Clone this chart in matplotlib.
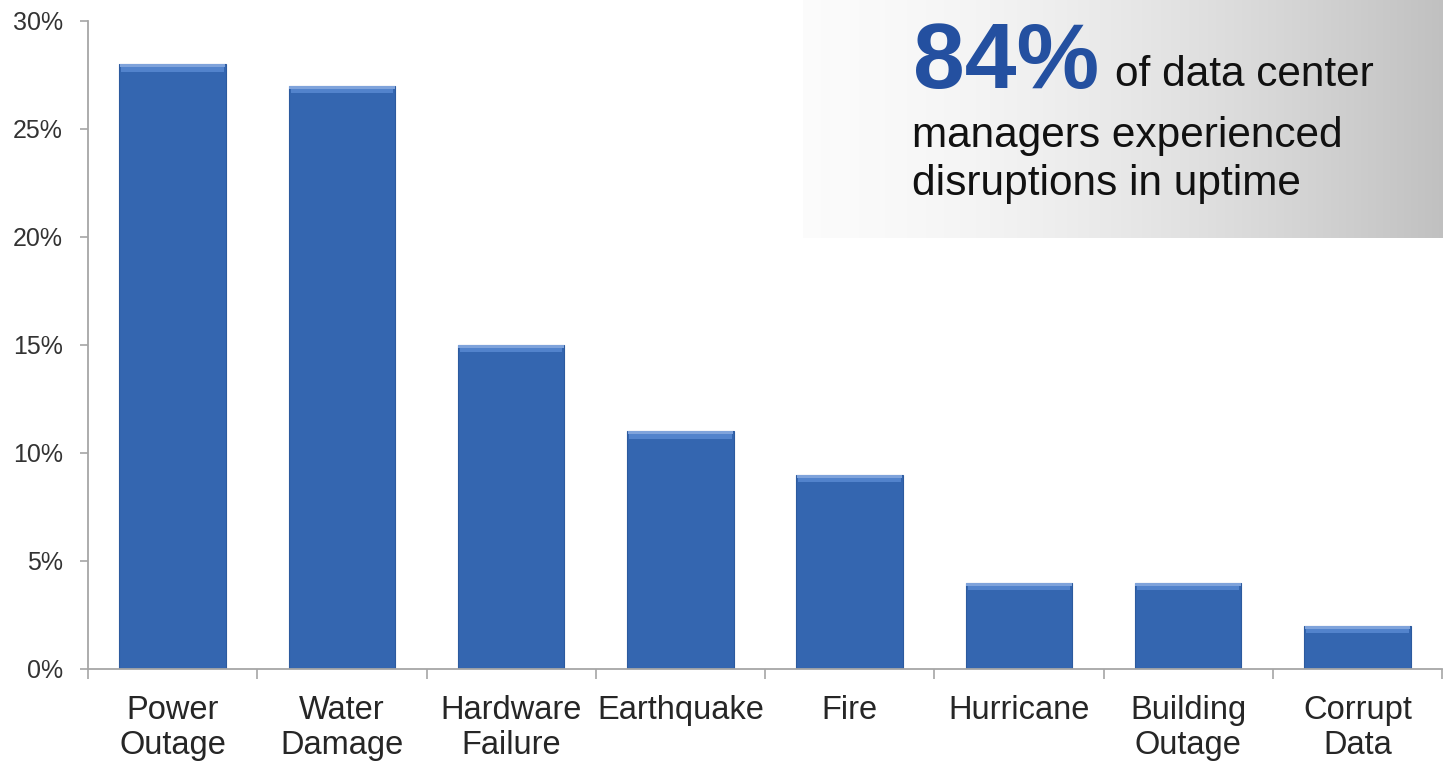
import matplotlib
matplotlib.use("Agg")
import matplotlib.pyplot as plt
import numpy as np
from matplotlib import font_manager

categories = ["Power\nOutage", "Water\nDamage", "Hardware\nFailure", "Earthquake",
              "Fire", "Hurricane", "Building\nOutage", "Corrupt\nData"]
values = [28, 27, 15, 11, 9, 4, 4, 2]
yticks = [0, 5, 10, 15, 20, 25, 30]
ytick_labels = ["0%", "5%", "10%", "15%", "20%", "25%", "30%"]
headline_big = "84%"
headline_rest = "of data center"
headline_lines = ["managers experienced", "disruptions in uptime"]

base_font = "Liberation Sans"
plt.rcParams["font.family"] = [base_font, "DejaVu Sans"]


def find_narrow_bold():
    for f in font_manager.fontManager.ttflist:
        fname = f.fname.lower()
        if f.name in ("Liberation Sans Narrow", "Arial Narrow") and "bold" in fname \
                and "italic" not in fname:
            return font_manager.FontProperties(fname=f.fname)
    return None


big_fp = find_narrow_bold()

W, H = 1443, 763
fig = plt.figure(figsize=(W / 100, H / 100), dpi=100)
fig.patch.set_facecolor("white")

ax = fig.add_axes([88 / W, 1 - 669 / H, (1442 - 88) / W, (669 - 21) / H])
ax.set_facecolor("white")

x = np.arange(len(values))
bw = 0.63
bar_color = "#3466b0"
ax.bar(x, values, width=bw, color=bar_color, edgecolor="#2c5a9e", linewidth=0.8, zorder=2)
# bevel highlight on top
band = 0.34
ax.bar(x, [band] * len(values), bottom=[v - band for v in values], width=bw * 0.96,
       color="#5283cc", linewidth=0, zorder=3)
ax.bar(x, [band * 0.4] * len(values), bottom=[v - band * 0.4 for v in values], width=bw * 0.99,
       color="#7fa3db", linewidth=0, zorder=3)

ax.set_xlim(-0.5, len(values) - 0.5)
ax.set_ylim(0, 30)

for s in ["top", "right"]:
    ax.spines[s].set_visible(False)
for s in ["left", "bottom"]:
    ax.spines[s].set_color("#a6a6a6")
    ax.spines[s].set_linewidth(1.3)

ax.set_yticks(yticks)
ax.set_yticklabels(ytick_labels)
ax.tick_params(axis="y", length=6, width=1.2, color="#a6a6a6", pad=12,
               labelsize=18, labelcolor="#333333")

ax.set_xticks(x)
ax.set_xticklabels(categories, linespacing=1.17)
ax.tick_params(axis="x", which="major", length=0, pad=19, labelsize=23.5, labelcolor="#262626")
ax.set_xticks(np.arange(-0.5, len(values) + 0.5, 1), minor=True)
ax.tick_params(axis="x", which="minor", length=7, width=1.2, color="#a6a6a6")
for lbl in ax.get_xticklabels():
    lbl.set_verticalalignment("top")

# Gradient annotation box
bx0, by0 = 803, 0
bx1, by1 = W, 238
box_ax = fig.add_axes([bx0 / W, 1 - by1 / H, (bx1 - bx0) / W, (by1 - by0) / H])
t = np.linspace(0, 1, 400)
g = 0.985 - 0.23 * t ** 1.6
grad = np.tile(g, (10, 1))
box_ax.imshow(np.dstack([grad, grad, grad]), aspect="auto", extent=[0, 1, 0, 1],
              interpolation="bilinear")
box_ax.set_axis_off()

if big_fp is not None:
    fig.text(914 / W, 1 - 88 / H, headline_big, fontproperties=big_fp, fontsize=74,
             color="#2450a0", ha="left", va="baseline")
else:
    fig.text(913 / W, 1 - 88 / H, headline_big, fontsize=67, fontweight="bold",
             color="#2450a0", ha="left", va="baseline")
fig.text(1115 / W, 1 - 86 / H, headline_rest, fontsize=30.5, color="#111111",
         ha="left", va="baseline")
fig.text(912 / W, 1 - 147 / H, headline_lines[0], fontsize=30.5, color="#111111",
         ha="left", va="baseline")
fig.text(912 / W, 1 - 195 / H, headline_lines[1], fontsize=30.5, color="#111111",
         ha="left", va="baseline")

fig.savefig("out.png", dpi=100)
